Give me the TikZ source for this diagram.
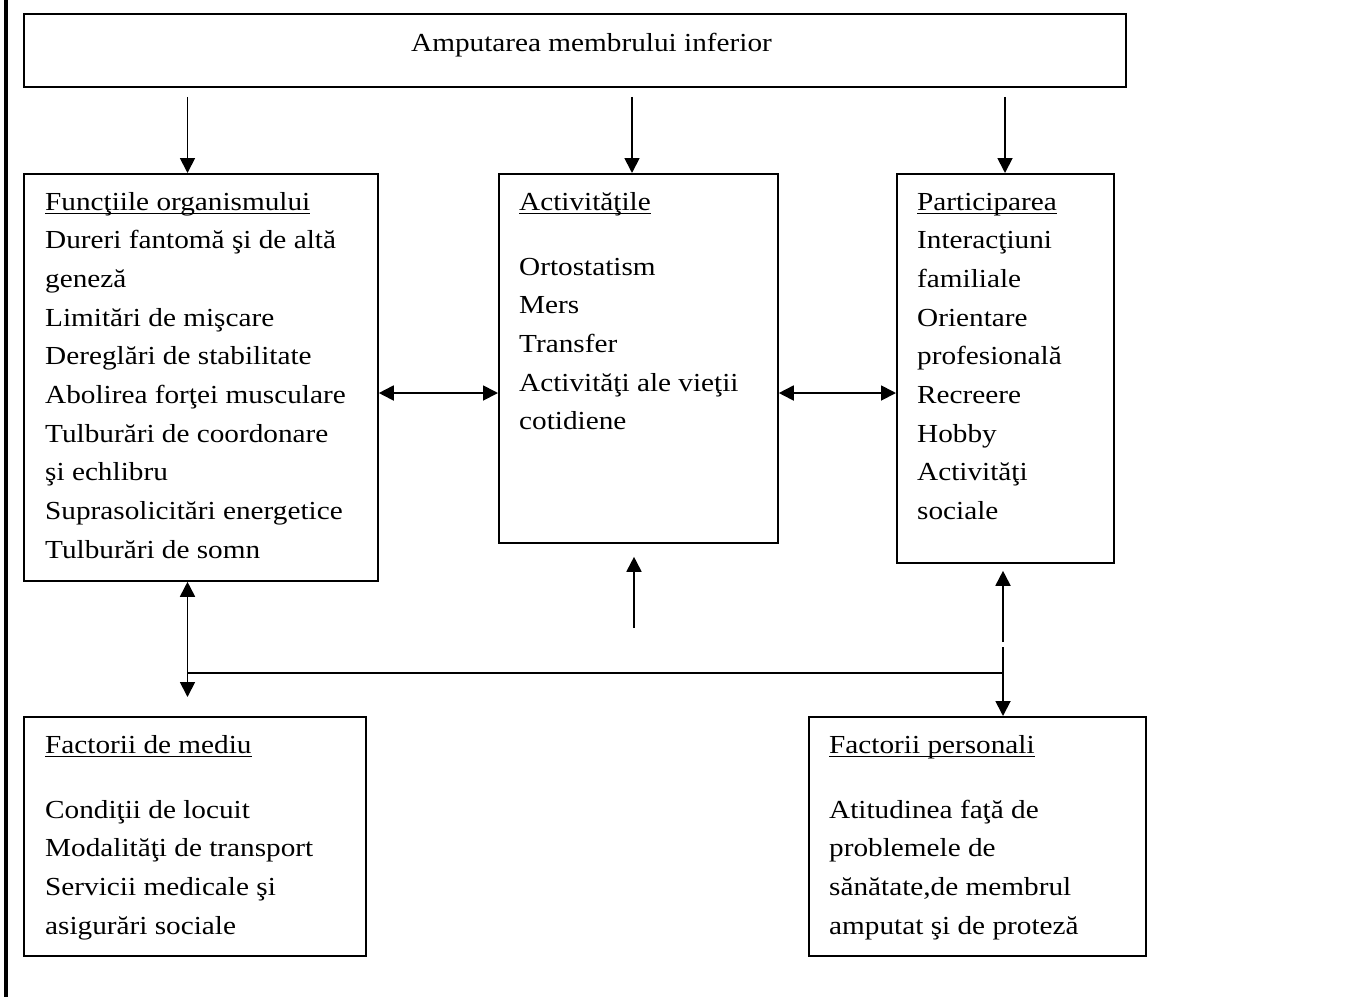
\documentclass[tikz,border=0pt]{standalone}
\usepackage{fontspec}
\setmainfont{Liberation Serif}
\usetikzlibrary{arrows.meta}
% heading underline that runs through descenders, as a word processor draws it
\newcommand\ulh[1]{\setbox0=\hbox{#1}\rlap{\rule[-4pt]{\wd0}{1.3pt}}\box0}
% a left-aligned block of lines, baseline on its first line
\newcommand\blk[1]{\scalebox{1.125}[1]{\begin{tabular}[t]{@{}l@{}}#1\end{tabular}}}

\begin{document}
\begin{tikzpicture}[x=1pt,y=-1pt,
  box/.style={draw, line width=1.8pt, anchor=north west, inner sep=0pt},
  txt/.style={anchor=base west, inner sep=0pt, font=\fontsize{26}{38.7}\selectfont},
  arr/.style={line width=1.8pt, -{Triangle[length=15pt,width=15pt]}},
  darr/.style={line width=1.8pt, {Triangle[length=15pt,width=15pt]}-{Triangle[length=15pt,width=15pt]}},
  link/.style={line width=1.8pt}]
\useasboundingbox (0,0) rectangle (1371,997);
% margin rule
\fill (4,0) rectangle (8,997);

% boxes
\node[box, minimum width=1102pt, minimum height=73pt]  (top) at (23,13)  {};
\node[box, minimum width=354pt,  minimum height=407pt] (f)   at (23,173) {};
\node[box, minimum width=279pt,  minimum height=369pt] (a)   at (498,173) {};
\node[box, minimum width=217pt,  minimum height=389pt] (p)   at (896,173) {};
\node[box, minimum width=342pt,  minimum height=239pt] (m)   at (23,716) {};
\node[box, minimum width=337pt,  minimum height=239pt] (pe)  at (808,716) {};

% texts
\node[txt, anchor=base] (ttop) at (591.5,51) {\scalebox{1.125}[1]{Amputarea membrului inferior}};
\node[txt] (tf) at (45,210) {\blk{\ulh{Funcţiile organismului}\\
  Dureri fantomă şi de altă\\ geneză\\ Limitări de mişcare\\
  Dereglări de stabilitate\\ Abolirea forţei musculare\\
  Tulburări de coordonare\\ şi echlibru\\ Suprasolicitări energetice\\
  Tulburări de somn}};
\node[txt] (ta) at (519,210) {\blk{\ulh{Activităţile}\\[26.3pt]
  Ortostatism\\ Mers\\ Transfer\\ Activităţi ale vieţii\\ cotidiene}};
\node[txt] (tp) at (917,210) {\blk{\ulh{Participarea}\\
  Interacţiuni\\ familiale\\ Orientare\\ profesională\\ Recreere\\
  Hobby\\ Activităţi\\ sociale}};
\node[txt] (tm) at (45,753) {\blk{\ulh{Factorii de mediu}\\[26.3pt]
  Condiţii de locuit\\ Modalităţi de transport\\ Servicii medicale şi\\
  asigurări sociale}};
\node[txt] (tpe) at (829,753) {\blk{\ulh{Factorii personali}\\[26.3pt]
  Atitudinea faţă de\\ problemele de\\ sănătate,de membrul\\
  amputat şi de proteză}};

% guide coordinates
\coordinate (xl) at (187.5,0);
\coordinate (xm) at (632,0);
\coordinate (xr) at (1005,0);
\coordinate (xv) at (1003,0);
\coordinate (ym) at (0,393);
\coordinate (yh) at (0,673);
\coordinate (up) at (634,628);
\coordinate (brk) at (1003,644.5);

% from the top box
\draw[arr, shorten <=9pt] (top.south -| xl) -- (f.north -| xl);
\draw[arr, shorten <=9pt] (top.south -| xm) -- (a.north -| xm);
\draw[arr, shorten <=9pt] (top.south -| xr) -- (p.north -| xr);

% between the middle boxes
\draw[darr] (f.east |- ym) -- (a.west |- ym);
\draw[darr] (a.east |- ym) -- (p.west |- ym);

% towards the activities
\draw[arr, shorten >=13pt] (up) -- (a.south -| up);

% the factors
\draw[darr, shorten >=19pt] (f.south -| xl) -- (m.north -| xl);
\draw[link] (yh -| xl) -- (yh -| xv);
\draw[arr, shorten <=2.5pt, shorten >=7pt] (brk) -- (p.south -| brk);
\draw[arr, shorten <=2.5pt] (brk) -- (pe.north -| brk);
\end{tikzpicture}
\end{document}
